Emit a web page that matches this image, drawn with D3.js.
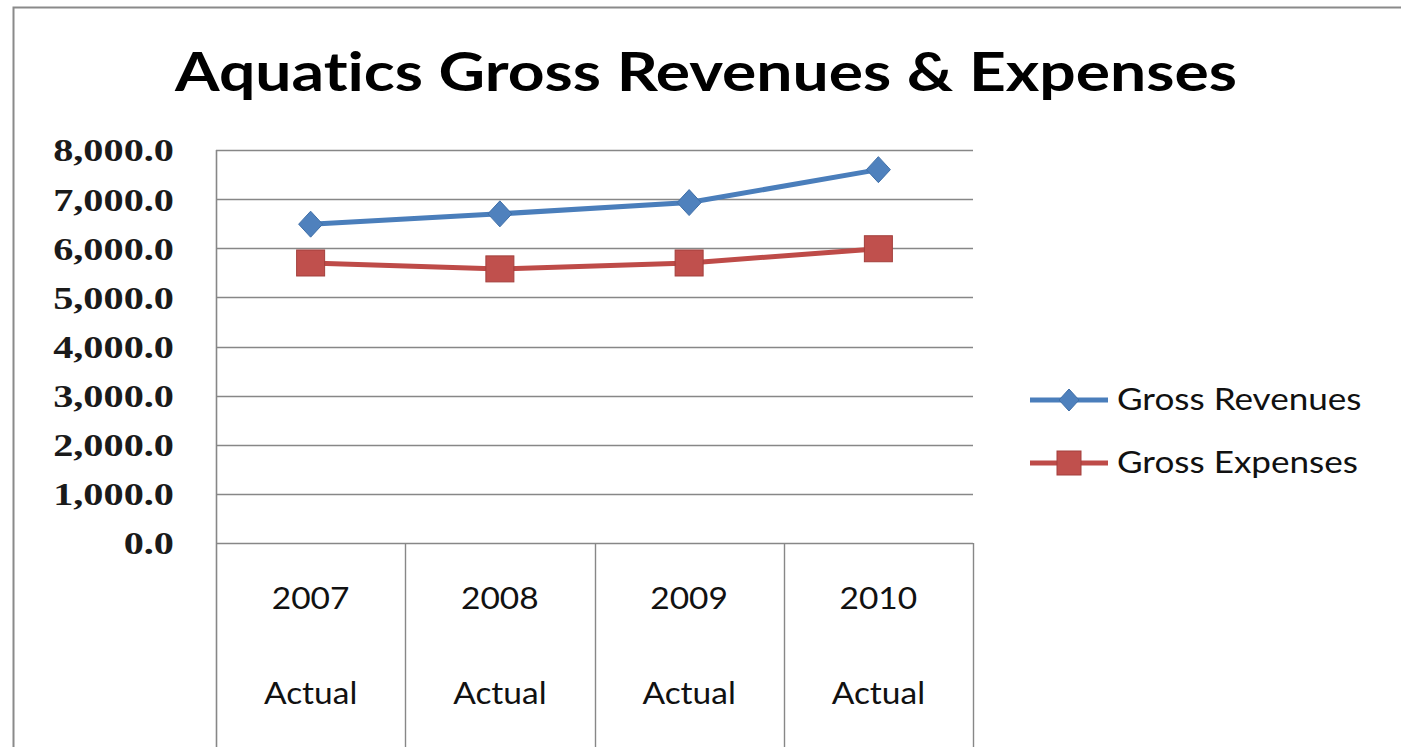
<!DOCTYPE html>
<html>
<head>
<meta charset="utf-8">
<script src="https://cdn.jsdelivr.net/npm/d3@7"></script>
<style>
  html, body { margin: 0; padding: 0; background: #ffffff; }
  svg { display: block; }
  text { font-variant-ligatures: none; font-feature-settings: "liga" 0, "clig" 0; }
</style>
</head>
<body>
<svg id="chart" width="1401" height="747"></svg>
<script>
// ---- data ----
const years = ["2007", "2008", "2009", "2010"];
const subLabels = ["Actual", "Actual", "Actual", "Actual"];
const grossRevenues = [6490, 6700, 6930, 7600];
const grossExpenses = [5700, 5580, 5700, 5990];
const yTicks = [0, 1000, 2000, 3000, 4000, 5000, 6000, 7000, 8000];
const seriesNames = ["Gross Revenues", "Gross Expenses"];

// ---- layout ----
const W = 1401, H = 747;
const plot = { left: 216, right: 973, top: 150, bottom: 543 };
const blue = "#4A7EBB", blueFill = "#4F81BD";
const red = "#BE4B48", redFill = "#C0504D";
const gridColor = "#878787";

const svg = d3.select("#chart");

// stretch text horizontally so a string occupies a given width
function fitWidth(sel, width, anchorX) {
  sel.each(function () {
    const t = d3.select(this);
    const w = this.getComputedTextLength();
    const k = width / w;
    t.attr("transform", `translate(${anchorX},0) scale(${k},1) translate(${-anchorX},0)`);
  });
}
function stretch(sel, k) {
  sel.each(function () {
    const t = d3.select(this);
    const x = +t.attr("x");
    t.attr("transform", `translate(${x},0) scale(${k},1) translate(${-x},0)`);
  });
}

// outer frame (left and top edges visible)
svg.append("path")
  .attr("d", `M13.5,${H} L13.5,7.5 L${W},7.5`)
  .attr("fill", "none").attr("stroke", "#8a8a8a").attr("stroke-width", 2);

// title
const title = svg.append("text")
  .attr("x", 706).attr("y", 91)
  .attr("text-anchor", "middle")
  .attr("font-family", "Lato, 'Open Sans', sans-serif")
  .attr("font-weight", "bold").attr("font-size", 53)
  .attr("fill", "#000")
  .text("Aquatics Gross Revenues & Expenses");
fitWidth(title, 1062, 706);

// scales
const y = d3.scaleLinear().domain([0, 8000]).range([plot.bottom, plot.top]);
const x = d3.scaleBand().domain(years).range([plot.left, plot.right]).padding(0);

// horizontal gridlines
svg.append("g").selectAll("line").data(yTicks).join("line")
  .attr("x1", plot.left).attr("x2", plot.right)
  .attr("y1", d => Math.round(y(d)) + 0.5).attr("y2", d => Math.round(y(d)) + 0.5)
  .attr("stroke", gridColor).attr("stroke-width", 1.6);

// y axis line
svg.append("line")
  .attr("x1", plot.left + 0.5).attr("x2", plot.left + 0.5)
  .attr("y1", plot.top).attr("y2", H)
  .attr("stroke", gridColor).attr("stroke-width", 1.6);

// category dividers below the axis
const bounds = years.map(d => x(d)).concat([x(years[years.length - 1]) + x.bandwidth()]);
svg.append("g").selectAll("line").data(bounds.slice(1)).join("line")
  .attr("x1", d => Math.round(d) + 0.5).attr("x2", d => Math.round(d) + 0.5)
  .attr("y1", plot.bottom).attr("y2", H)
  .attr("stroke", gridColor).attr("stroke-width", 1.4);

// y tick labels
const yAxis = d3.axisLeft(y).tickValues(yTicks).tickFormat(d3.format(",.1f")).tickSize(0).tickPadding(42);
const yg = svg.append("g").attr("transform", `translate(${plot.left},0)`).call(yAxis);
yg.select(".domain").remove();
yg.selectAll("text")
  .attr("font-family", "'Liberation Serif', 'DejaVu Serif', serif")
  .attr("font-weight", "bold")
  .attr("font-size", 32).attr("fill", "#1a1a1a")
  .attr("dy", "0.34em");
yg.selectAll("text").each(function () {
  const t = d3.select(this);
  const xr = +t.attr("x");
  t.attr("transform", `translate(${xr},0) scale(1.26,1) translate(${-xr},0)`);
});

// category labels (two lines)
const catFont = "Lato, 'Open Sans', sans-serif";
const cat = svg.append("g");
cat.selectAll("text.year").data(years).join("text")
  .attr("class", "year")
  .attr("x", d => x(d) + x.bandwidth() / 2).attr("y", 609)
  .attr("text-anchor", "middle")
  .attr("font-family", catFont).attr("font-size", 31).attr("fill", "#111")
  .text(d => d)
  .call(stretch, 1.08);
cat.selectAll("text.sub").data(subLabels).join("text")
  .attr("class", "sub")
  .attr("x", (d, i) => x(years[i]) + x.bandwidth() / 2).attr("y", 704)
  .attr("text-anchor", "middle")
  .attr("font-family", catFont).attr("font-size", 31).attr("fill", "#111")
  .text(d => d)
  .call(stretch, 1.08);

// series
const cx = d => x(d) + x.bandwidth() / 2;
const line = d3.line().x(d => cx(d.year)).y(d => y(d.value));
const revData = years.map((yr, i) => ({ year: yr, value: grossRevenues[i] }));
const expData = years.map((yr, i) => ({ year: yr, value: grossExpenses[i] }));

svg.append("path").datum(revData).attr("d", line)
  .attr("fill", "none").attr("stroke", blue).attr("stroke-width", 5).attr("stroke-linejoin", "round");
svg.append("path").datum(expData).attr("d", line)
  .attr("fill", "none").attr("stroke", red).attr("stroke-width", 5).attr("stroke-linejoin", "round");

function diamond(g, px, py, w, h) {
  g.append("path")
    .attr("d", `M${px},${py - h / 2} L${px + w / 2},${py} L${px},${py + h / 2} L${px - w / 2},${py} Z`)
    .attr("fill", blueFill).attr("stroke", "#3f6fa8").attr("stroke-width", 1);
}
function square(g, px, py, w, h) {
  g.append("rect")
    .attr("x", px - w / 2).attr("y", py - h / 2).attr("width", w).attr("height", h)
    .attr("fill", redFill).attr("stroke", "#a33f3c").attr("stroke-width", 1);
}

const marks = svg.append("g");
revData.forEach(d => diamond(marks, cx(d.year), y(d.value), 24, 26));
expData.forEach(d => square(marks, cx(d.year), y(d.value), 28, 26));

// legend
const legend = svg.append("g");
const legendRows = [
  { name: seriesNames[0], y: 400, color: blue, marker: "diamond" },
  { name: seriesNames[1], y: 463, color: red, marker: "square" }
];
legendRows.forEach(r => {
  legend.append("line")
    .attr("x1", 1030).attr("x2", 1108).attr("y1", r.y).attr("y2", r.y)
    .attr("stroke", r.color).attr("stroke-width", 5);
  if (r.marker === "diamond") diamond(legend, 1069, r.y, 20, 22);
  else square(legend, 1069, r.y, 24, 24);
  legend.append("text")
    .attr("x", 1117).attr("y", r.y + 10)
    .attr("font-family", catFont).attr("font-size", 30).attr("fill", "#111")
    .text(r.name)
    .call(stretch, 1.17);
});
</script>
</body>
</html>
